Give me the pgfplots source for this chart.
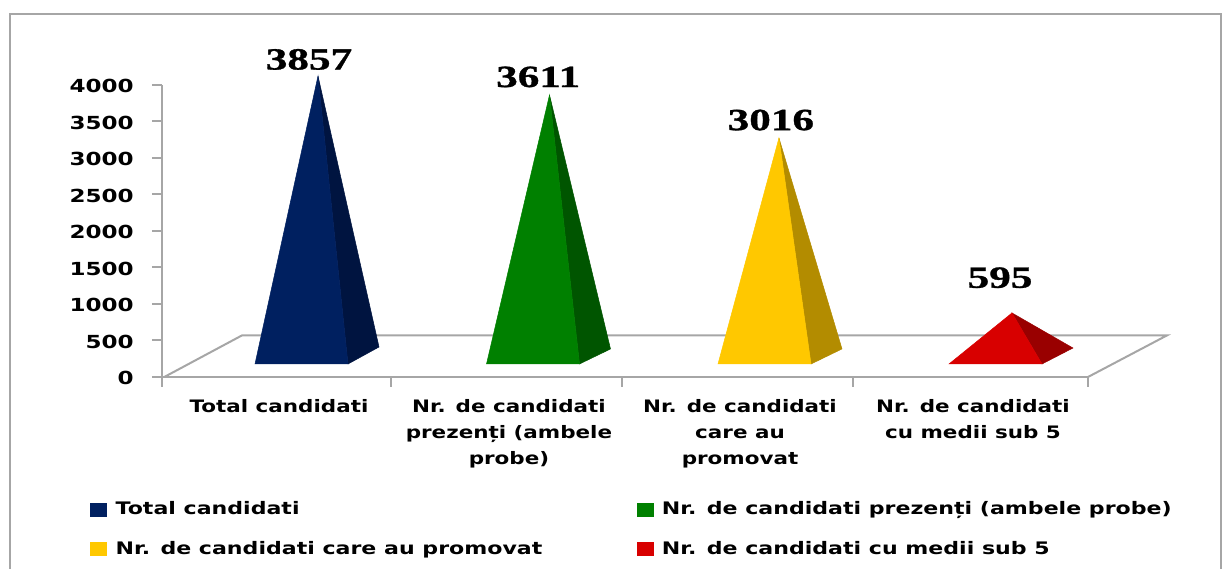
\documentclass[border=0pt]{standalone}
\usepackage{pgfplots}
\pgfplotsset{compat=1.18}
\usepackage{fontspec}
\setmainfont{DejaVu Sans}
\newfontfamily\tickfont[FakeStretch=1.28]{DejaVu Sans}
\newfontfamily\catfont[FakeStretch=1.25]{DejaVu Sans}
\newfontfamily\legfont[FakeStretch=1.28]{DejaVu Sans}
\newfontfamily\valfont[BoldFont={Liberation Serif Bold},FakeStretch=1.4,BoldFeatures={FakeStretch=1.4,FakeBold=1}]{Liberation Serif}
\definecolor{frameg}{HTML}{A6A6A6}
\definecolor{navyF}{HTML}{002060}
\definecolor{navyS}{HTML}{001440}
\definecolor{greenF}{HTML}{008000}
\definecolor{greenS}{HTML}{005500}
\definecolor{yelF}{HTML}{FFC800}
\definecolor{yelS}{HTML}{B38C00}
\definecolor{redF}{HTML}{D80000}
\definecolor{redS}{HTML}{990000}
\pgfplotsset{
  legsq/.style={legend image code/.code={\fill[##1] (0pt,-4.2pt) rectangle (10.2pt,4.2pt);}},
  face/.style={fill=#1,draw=#1,line width=0.3pt,forget plot}
}
\begin{document}
\begin{tikzpicture}
\useasboundingbox (0pt,0pt) rectangle (739.2pt,341.4pt);
\draw[frameg,line width=1.5pt] (6pt,0pt) -- (6pt,333pt) -- (732.6pt,333pt) -- (732.6pt,0pt);
\begin{axis}[
  at={(97.2pt,115.2pt)},anchor=south west,
  scale only axis,width=555.6pt,height=175.2pt,
  xmin=0,xmax=4,ymin=0,ymax=4000,
  clip=false,
  axis x line*=bottom,axis y line*=left,
  axis line style={frameg,line width=1.2pt,-},
  tick style={frameg,line width=1.2pt},
  tick align=outside,major tick length=6pt,
  xtick={0,0.989,1.987,2.985,4},
  x tick label as interval,
  xticklabels={Total candidati,{Nr. de candidati\\prezenți (ambele\\probe)},{Nr. de candidati\\care au\\promovat},{Nr. de candidati\\cu medii sub 5}},
  x tick label style={font=\catfont\bfseries\fontsize{10.3}{15.6}\selectfont,align=center,anchor=north,yshift=-5pt,xshift=1.5pt,inner sep=2pt},
  ytick={0,500,...,4000},
  /pgf/number format/assume math mode=true,
  /pgf/number format/1000 sep={},
  y tick label style={font=\tickfont\bfseries\fontsize{10.8}{12}\selectfont,inner sep=0pt,xshift=-10.8pt,yshift=-0.6pt},
  legend columns=2,
  legend cell align=left,
  legend style={at={(axis cs:-0.311,-1660)},anchor=north west,draw=none,fill=none,inner sep=0pt,
    font=\legfont\bfseries\fontsize{10.35}{12}\selectfont,
    /tikz/every odd column/.append style={column sep=3pt},
    /tikz/every even column/.append style={column sep=54.6pt},
    row sep=10.5pt},
]
% floor of the 3D plot
\addplot[frameg,line width=1.2pt,forget plot] coordinates {(0.01,0) (0.3456,570) (4.3413,570) (4,0)};
% Total candidati: 3857
\addplot[face=navyS] coordinates {(0.8035,178) (0.9374,411) (0.6739,4123)} -- cycle;
\addplot[face=navyF] coordinates {(0.4017,178) (0.8035,178) (0.6739,4123)} -- cycle;
% prezenti: 3611
\addplot[face=greenS] coordinates {(1.8035,178) (1.9374,384) (1.6739,3863)} -- cycle;
\addplot[face=greenF] coordinates {(1.4017,178) (1.8035,178) (1.6739,3863)} -- cycle;
% promovat: 3016
\addplot[face=yelS] coordinates {(2.8035,178) (2.9374,384) (2.665,3274)} -- cycle;
\addplot[face=yelF] coordinates {(2.4017,178) (2.8035,178) (2.665,3274)} -- cycle;
% sub 5: 595
\addplot[face=redS] coordinates {(3.8013,178) (3.935,397) (3.6717,877)} -- cycle;
\addplot[face=redF] coordinates {(3.3996,178) (3.8013,178) (3.6717,877)} -- cycle;
\node[font=\valfont\bfseries\fontsize{18.5}{20}\selectfont,inner sep=0pt] at (axis cs:0.635,4350) {3857};
\node[font=\valfont\bfseries\fontsize{18.5}{20}\selectfont,inner sep=0pt] at (axis cs:1.625,4110) {3611};
\node[font=\valfont\bfseries\fontsize{18.5}{20}\selectfont,inner sep=0pt] at (axis cs:2.63,3520) {3016};
\node[font=\valfont\bfseries\fontsize{18.5}{20}\selectfont,inner sep=0pt] at (axis cs:3.62,1360) {595};
\addlegendimage{legsq,fill=navyF,draw=none}
\addlegendentry{Total candidati}
\addlegendimage{legsq,fill=greenF,draw=none}
\addlegendentry{Nr. de candidati prezenți (ambele probe)}
\addlegendimage{legsq,fill=yelF,draw=none}
\addlegendentry{Nr. de candidati care au promovat}
\addlegendimage{legsq,fill=redF,draw=none}
\addlegendentry{Nr. de candidati cu medii sub 5}
\end{axis}
\end{tikzpicture}
\end{document}
